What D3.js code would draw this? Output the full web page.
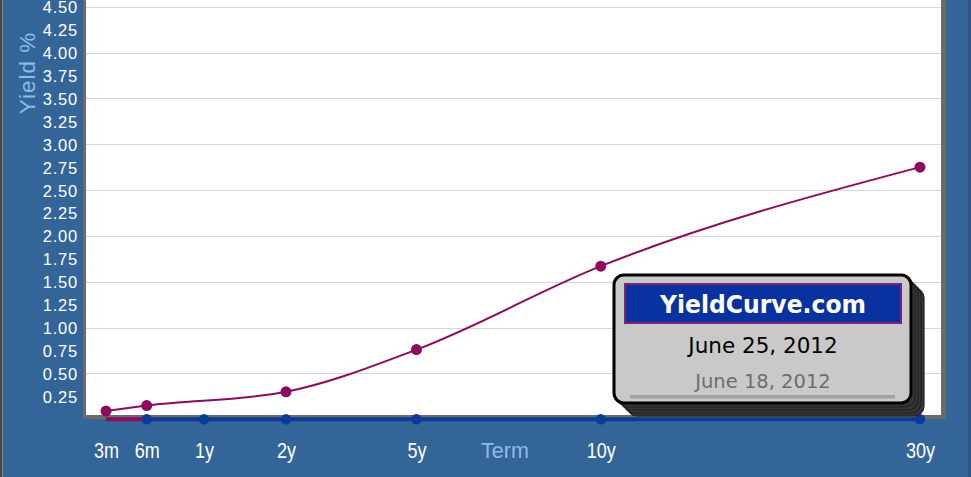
<!DOCTYPE html>
<html><head><meta charset="utf-8">
<script src="https://cdn.jsdelivr.net/npm/d3@7"></script>
<style>html,body{margin:0;padding:0;overflow:hidden;background:#346598}</style>
</head><body><svg id="c" width="971" height="477"></svg>
<script>
// ---- data ----
const terms = ["3m","6m","1y","2y","5y","10y","30y"];
const termYears = [0.25,0.5,1,2,5,10,30];
const yieldsJun25 = [0.09,0.15,null,0.30,0.76,1.67,2.75];
const yieldsJun18 = [0,0,0,0,0,0,0];
const yTicks = [0.25,0.50,0.75,1.00,1.25,1.50,1.75,2.00,2.25,2.50,2.75,3.00,3.25,3.50,3.75,4.00,4.25,4.50];
const gridTicks = [0.5,1.0,1.5,2.0,2.5,3.0,3.5,4.0,4.5];
const seriesLabels = ["June 25, 2012","June 18, 2012"];
const brandText = "YieldCurve.com";
const yTitle = "Yield %";
const xTitle = "Term";

// ---- layout ----
const W = 971, H = 477;
const plot = {left:86, right:941, top:-5, bottom:415};
const termSpacing = [0.0234,0.0710,0.1380,0.2339,0.3865,0.6021,0.9754]; // relative placement of terms along axis
const colPurple = "#8c0b5f", colBlue = "#0b3b96";

const svg = d3.select("#c");
svg.append("rect").attr("width",W).attr("height",H).attr("fill","#346598");
// outer borders
svg.append("rect").attr("x",0).attr("y",0).attr("width",2).attr("height",H).attr("fill","#474747");
svg.append("rect").attr("x",2).attr("y",0).attr("width",1).attr("height",H).attr("fill","#8a8a8a");
svg.append("rect").attr("x",W-3).attr("y",0).attr("width",3).attr("height",H).attr("fill","#2c5586");

const x = d3.scaleLinear()
  .domain(termYears)
  .range(termSpacing.map(f => plot.left + f*(plot.right-plot.left)));
const y = d3.scaleLinear().domain([0,4.5]).range([419.3, 6.7]);

// plot frame
svg.append("rect").attr("x",83).attr("y",plot.top).attr("width",946-83).attr("height",419-plot.top).attr("fill","#6a6a6a");
svg.append("rect").attr("x",plot.left).attr("y",plot.top).attr("width",plot.right-plot.left).attr("height",plot.bottom-plot.top).attr("fill","#ffffff");

// gridlines
svg.append("g").selectAll("line").data(gridTicks).join("line")
  .attr("x1",plot.left).attr("x2",plot.right)
  .attr("y1",d=>Math.round(y(d))+0.5).attr("y2",d=>Math.round(y(d))+0.5)
  .attr("stroke","#d6d6d6").attr("stroke-width",1);

// y axis labels
const yAxis = svg.append("g").attr("transform",`translate(${plot.left},0)`)
  .call(d3.axisLeft(y).tickValues(yTicks).tickSize(0).tickPadding(8).tickFormat(d3.format(".2f")));
yAxis.select(".domain").remove();
yAxis.selectAll("text").attr("fill","#ffffff")
  .style("font-family","'Liberation Sans', Arial, sans-serif").style("font-size","16.5px")
  .style("letter-spacing","0.8px").attr("dy","0.36em");

// x axis labels (condensed look)
const xAxis = svg.append("g").attr("transform",`translate(0,419)`)
  .call(d3.axisBottom(x).tickValues(termYears).tickSize(0).tickFormat((d,i)=>terms[i]));
xAxis.select(".domain").remove();
xAxis.selectAll("text").attr("fill","#ffffff").attr("y",39).attr("dy",null)
  .attr("transform","scale(0.8,1)")
  .style("font-family","'Liberation Sans', Arial, sans-serif").style("font-size","22.5px");

// axis titles
svg.append("text").attr("transform",`translate(35,73) rotate(-90)`).attr("text-anchor","middle")
  .attr("fill","#8bbbea").style("font-family","'Liberation Sans', Arial, sans-serif")
  .style("font-size","22.5px").style("letter-spacing","1px").text(yTitle);
svg.append("text").attr("x",505).attr("y",458).attr("text-anchor","middle")
  .attr("fill","#8bbbea").style("font-family","'Liberation Sans', Arial, sans-serif")
  .style("font-size","21.5px").text(xTitle);

// series: June 18 (flat)
const pts18 = termYears.map((t,i)=>({t, v:yieldsJun18[i], i}));
const seg = d3.line().x(d=>x(d.t)).y(d=>y(d.v));
svg.append("g").selectAll("path").data(d3.pairs(pts18)).join("path")
  .attr("d",d=>seg(d)).attr("fill","none")
  .attr("stroke",d=>d[0].i===0 ? colPurple : colBlue).attr("stroke-width",4);
svg.append("g").selectAll("circle").data(pts18.filter(d=>d.i>0)).join("circle")
  .attr("cx",d=>x(d.t)).attr("cy",d=>y(d.v)).attr("r",5.2).attr("fill",colBlue);

// series: June 25
const pts25 = termYears.map((t,i)=>({t, v:yieldsJun25[i]})).filter(d=>d.v!==null);
svg.append("path").datum(pts25)
  .attr("d",d3.line().x(d=>x(d.t)).y(d=>y(d.v)).curve(d3.curveMonotoneX))
  .attr("fill","none").attr("stroke",colPurple).attr("stroke-width",2);
svg.append("g").selectAll("circle").data(pts25).join("circle")
  .attr("cx",d=>x(d.t)).attr("cy",d=>y(d.v)).attr("r",5.5).attr("fill",colPurple);

// legend box
const lg = svg.append("g");
const box = {x:614, y:275, w:297, h:128};
[13,10,7,4].forEach(o=>{
  lg.append("rect").attr("x",box.x+o).attr("y",box.y+o).attr("width",box.w).attr("height",box.h)
    .attr("rx",10).attr("fill","#363636").attr("stroke","#1e1e1e").attr("stroke-width",1.2);
});
lg.append("rect").attr("x",box.x).attr("y",box.y).attr("width",box.w).attr("height",box.h)
  .attr("rx",10).attr("fill","#c9c9c9").attr("stroke","#000").attr("stroke-width",3);
lg.append("rect").attr("x",625).attr("y",284).attr("width",276).attr("height",39)
  .attr("fill","#0a31a0").attr("stroke","#7a2378").attr("stroke-width",2);
lg.append("text").attr("x",763).attr("y",313).attr("text-anchor","middle").attr("fill","#ffffff")
  .style("font-family","'DejaVu Sans', Verdana, sans-serif").style("font-weight","bold").style("font-size","25px")
  .attr("textLength",206).attr("lengthAdjust","spacingAndGlyphs").text(brandText);
lg.append("text").attr("x",763).attr("y",353).attr("text-anchor","middle").attr("fill","#000")
  .style("font-family","'DejaVu Sans', Verdana, sans-serif").style("font-size","21.5px").text(seriesLabels[0]);
lg.append("text").attr("x",763).attr("y",388).attr("text-anchor","middle").attr("fill","#6e6e6e")
  .style("font-family","'DejaVu Sans', Verdana, sans-serif").style("font-size","19.5px").text(seriesLabels[1]);
lg.append("rect").attr("x",630).attr("y",395).attr("width",265).attr("height",3.5).attr("fill","#a2a2a2");
</script></body></html>
